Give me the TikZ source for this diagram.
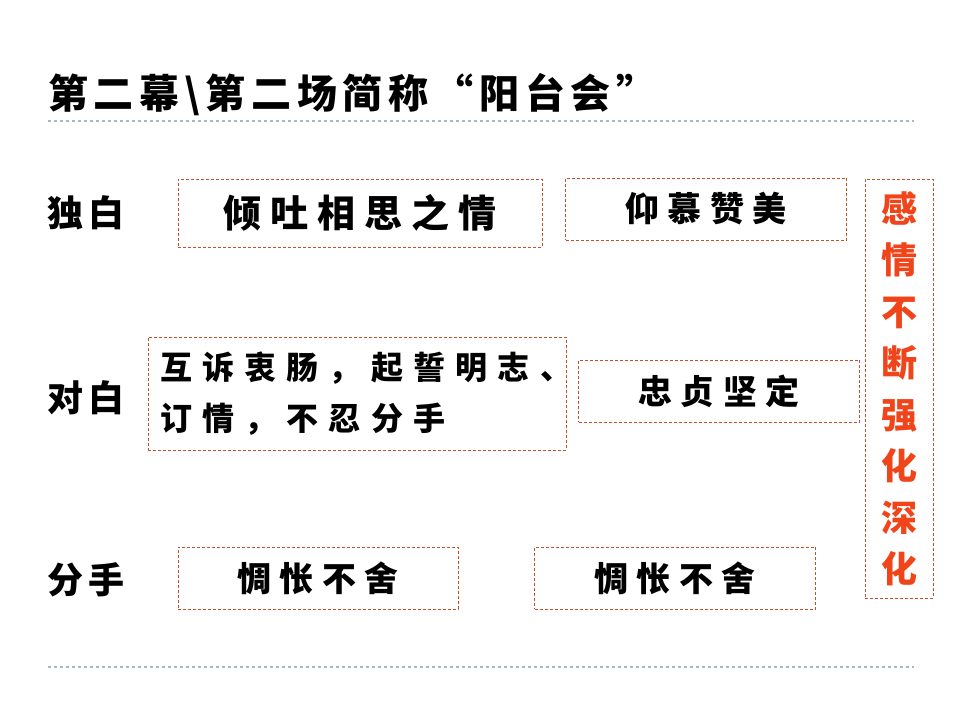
\documentclass[tikz,border=0pt]{standalone}
\usepackage{fontspec}
\newfontfamily\cjk{Noto Sans CJK SC}
\newcommand{\fsz}[3]{\cjk\bfseries\fontsize{#1}{#3}\selectfont\addfontfeature{LetterSpace=#2}}
\definecolor{boxc}{RGB}{190,84,44}
\definecolor{redt}{RGB}{240,68,26}
\definecolor{rulec}{RGB}{168,184,194}
\tikzset{
  pbox/.style={draw=boxc, line width=1pt, dash pattern=on 3pt off 2pt, inner sep=0pt, align=center},
  lab/.style={inner sep=0pt, anchor=west},
  rulel/.style={draw=rulec, line width=1.3pt, dash pattern=on 3pt off 3pt}
}
\begin{document}
\begin{tikzpicture}[x=1pt,y=-1pt]
\useasboundingbox (0,0) rectangle (960,720);
\fill[white] (0,0) rectangle (960,720);
% title
\node[lab, font={\fsz{40}{14}{40}}] (title) at (48,95) {第二幕\textbackslash 第二场简称“阳台会”};
\coordinate (r1a) at (48,121); \coordinate (r1b) at (914,121);
\coordinate (r2a) at (48,667); \coordinate (r2b) at (914,667);
\draw[rulel] (r1a) -- (r1b);
\draw[rulel] (r2a) -- (r2b);
% row labels
\node[lab, font={\fsz{36}{16}{36}}] (l1) at (47,213) {独白};
\node[lab, font={\fsz{36}{16}{36}}] (l2) at (47,398) {对白};
\node[lab, font={\fsz{36}{16}{36}}] (l3) at (47,580) {分手};
% boxes
\node[pbox, minimum width=364pt, minimum height=68pt, font={\fsz{38}{24}{38}}] (b1) at (360,213) {倾吐相思之情};
\node[pbox, minimum width=281pt, minimum height=62pt, font={\fsz{34}{24}{34}}] (b2) at (706,209) {仰慕赞美};
\node[pbox, minimum width=418pt, minimum height=113pt, text width=394pt, align=left, inner xsep=12pt, font={\fsz{32}{32}{51}}] (b3) at (357,393.5)
  {互诉衷肠，起誓明志、\\订情，不忍分手};
\node[pbox, minimum width=281pt, minimum height=62pt, font={\fsz{34}{24}{34}}] (b4) at (719,391) {忠贞坚定};
\node[pbox, minimum width=280pt, minimum height=62pt, font={\fsz{34}{24}{34}}] (b5) at (318,578) {惆怅不舍};
\node[pbox, minimum width=281pt, minimum height=62pt, font={\fsz{34}{24}{34}}] (b6) at (675,578) {惆怅不舍};
\node[pbox, minimum width=68pt, minimum height=419pt, text=redt, font={\fsz{36}{0}{51.5}}] (b7) at (899,388.5)
  {感\\情\\不\\断\\强\\化\\深\\化};
\end{tikzpicture}
\end{document}
